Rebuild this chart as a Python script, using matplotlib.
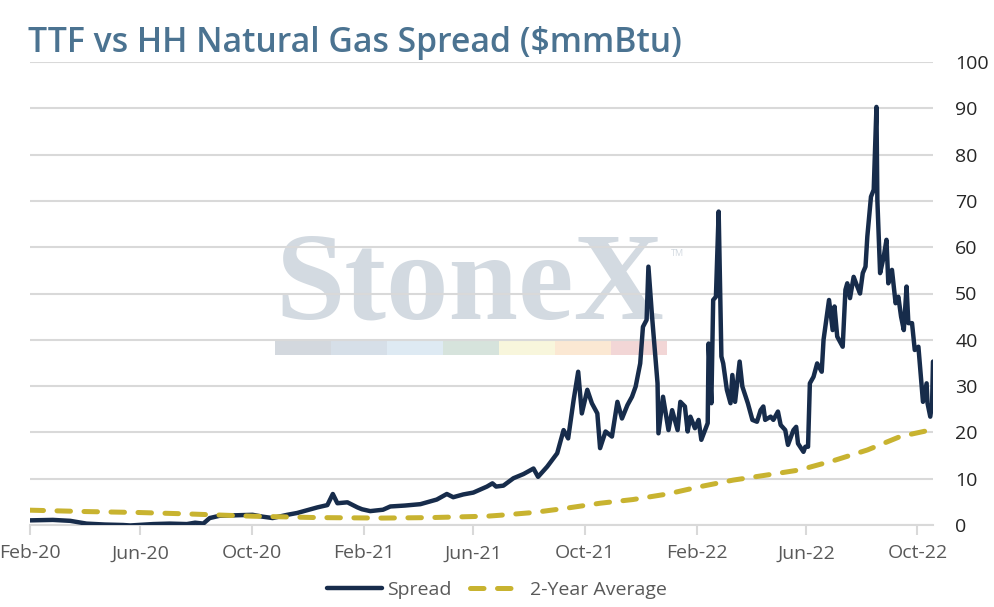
import pandas as pd
import numpy as np
import matplotlib
matplotlib.use('Agg')
import matplotlib.pyplot as plt
import matplotlib.dates as mdates
from matplotlib.patches import Rectangle

plt.rcParams['font.family'] = ['Open Sans', 'DejaVu Sans']

# spread values ($/mmBtu)
spread_dates = [
    '2020-02-01', '2020-02-26', '2020-03-16', '2020-04-03', '2020-04-23', '2020-05-13', '2020-05-21',
    '2020-06-15', '2020-07-03', '2020-07-22', '2020-07-31', '2020-08-09', '2020-08-16', '2020-08-27',
    '2020-09-13', '2020-10-02', '2020-10-13', '2020-10-24', '2020-11-09', '2020-11-20', '2020-12-01',
    '2020-12-12', '2020-12-23', '2020-12-29', '2021-01-03', '2021-01-14', '2021-01-25', '2021-01-30',
    '2021-02-08', '2021-02-22', '2021-03-02', '2021-03-18', '2021-04-04', '2021-04-22', '2021-05-03',
    '2021-05-10', '2021-05-21', '2021-06-01', '2021-06-16', '2021-06-22', '2021-06-26', '2021-07-04',
    '2021-07-15', '2021-07-26', '2021-08-06', '2021-08-11', '2021-08-21', '2021-09-01', '2021-09-08',
    '2021-09-13', '2021-09-19', '2021-09-24', '2021-09-28', '2021-10-04', '2021-10-09', '2021-10-15',
    '2021-10-18', '2021-10-24', '2021-10-31', '2021-11-06', '2021-11-11', '2021-11-17', '2021-11-22',
    '2021-11-26', '2021-12-01', '2021-12-04', '2021-12-08', '2021-12-10', '2021-12-14', '2021-12-20',
    '2021-12-21', '2021-12-26', '2022-01-01', '2022-01-05', '2022-01-11', '2022-01-14', '2022-01-19',
    '2022-01-22', '2022-01-25', '2022-01-30', '2022-02-03', '2022-02-06', '2022-02-13', '2022-02-14',
    '2022-02-17', '2022-02-19', '2022-02-22', '2022-02-25', '2022-02-28', '2022-03-02', '2022-03-06',
    '2022-03-10', '2022-03-12', '2022-03-15', '2022-03-20', '2022-03-23', '2022-03-29', '2022-04-03',
    '2022-04-08', '2022-04-12', '2022-04-15', '2022-04-17', '2022-04-23', '2022-04-26', '2022-05-01',
    '2022-05-04', '2022-05-09', '2022-05-12', '2022-05-18', '2022-05-21', '2022-05-23', '2022-05-29',
    '2022-05-31', '2022-06-03', '2022-06-05', '2022-06-09', '2022-06-13', '2022-06-18', '2022-06-20',
    '2022-06-26', '2022-06-30', '2022-07-02', '2022-07-05', '2022-07-11', '2022-07-14', '2022-07-16',
    '2022-07-19', '2022-07-23', '2022-07-27', '2022-07-30', '2022-08-02', '2022-08-05', '2022-08-07',
    '2022-08-11', '2022-08-14', '2022-08-17', '2022-08-18', '2022-08-21', '2022-08-25', '2022-08-28',
    '2022-08-30', '2022-09-03', '2022-09-07', '2022-09-10', '2022-09-13', '2022-09-16', '2022-09-19',
    '2022-09-21', '2022-09-25', '2022-09-28', '2022-10-02', '2022-10-05', '2022-10-07', '2022-10-11',
    '2022-10-12', '2022-10-15', '2022-10-17', '2022-10-18']
spread_vals = [
    1.0, 1.1, 0.9, 0.3, 0.1, 0.0, -0.1,
    0.2, 0.3, 0.2, 0.5, 0.3, 1.5, 2.0,
    2.1, 2.2, 1.8, 1.5, 2.2, 2.6, 3.2,
    3.8, 4.3, 6.7, 4.7, 4.9, 3.8, 3.4,
    3.0, 3.3, 4.0, 4.2, 4.5, 5.5, 6.7,
    6.0, 6.6, 7.0, 8.3, 9.0, 8.3, 8.5,
    10.1, 11.0, 12.2, 10.4, 12.6, 15.5, 20.5,
    18.7, 27.0, 33.1, 24.1, 29.2, 26.3, 24.1,
    16.6, 20.2, 19.1, 26.6, 23.0, 25.9, 27.7,
    29.9, 34.9, 42.8, 44.3, 55.8, 45.0, 30.6,
    19.8, 27.7, 20.5, 24.8, 20.5, 26.6, 25.6,
    20.2, 23.4, 20.9, 22.7, 18.4, 22.0, 39.2,
    26.3, 48.6, 49.3, 67.7, 36.4, 34.9, 29.2,
    26.3, 32.4, 26.6, 35.3, 29.9, 26.3, 22.7,
    22.3, 24.8, 25.6, 22.7, 23.4, 22.7, 24.5,
    21.6, 20.5, 17.3, 20.5, 21.2, 17.6, 15.8,
    16.9, 16.9, 30.6, 32.0, 34.9, 33.1, 40.0,
    48.6, 42.1, 47.2, 40.7, 38.5, 50.8, 52.2,
    49.0, 53.6, 51.5, 50.0, 54.4, 55.8, 62.3,
    70.9, 72.4, 90.3, 70.2, 54.4, 58.0, 61.6,
    52.2, 55.1, 47.9, 49.3, 45.0, 42.1, 51.5,
    43.6, 43.6, 37.8, 38.5, 31.3, 26.6, 30.6,
    26.3, 23.4, 26.3, 35.3]

# 2-year average
avg_dates = [
    '2020-02-01', '2020-04-03', '2020-05-30', '2020-07-22', '2020-10-02', '2020-12-12', '2021-02-22',
    '2021-04-15', '2021-06-16', '2021-06-30', '2021-08-06', '2021-09-10', '2021-10-18', '2021-11-23',
    '2021-12-31', '2022-02-05', '2022-03-13', '2022-04-19', '2022-05-25', '2022-07-01', '2022-08-07',
    '2022-09-12', '2022-10-17']
avg_vals = [
    3.2, 2.9, 2.7, 2.4, 1.9, 1.6, 1.5,
    1.6, 1.9, 2.1, 2.7, 3.6, 4.7, 5.5,
    6.7, 8.3, 9.7, 10.8, 11.9, 13.9, 16.2,
    19.1, 20.6]

tick_months = ['2020-02-01', '2020-06-01', '2020-10-01', '2021-02-01', '2021-06-01',
               '2021-10-01', '2022-02-01', '2022-06-01', '2022-10-01']

spread = pd.Series(spread_vals, index=pd.to_datetime(spread_dates))
avg2y = pd.Series(avg_vals, index=pd.to_datetime(avg_dates))

navy = '#172c4b'
gold = '#c8b330'
grid_c = '#d9d9d9'

fig = plt.figure(figsize=(9.94, 6.07), dpi=100)
ax = fig.add_axes([30 / 994, 1 - 525 / 607, (933 - 30) / 994, (525 - 62) / 607])

# watermark behind the grid
ax.text(275 / 994, 1 - 318 / 607, 'StoneX', transform=fig.transFigure, family='Liberation Serif',
        fontweight='bold', fontsize=90, color='#d3dae1', ha='left', va='baseline', zorder=0.3)
ax.text(671 / 994, 1 - 256 / 607, 'TM', transform=fig.transFigure, fontsize=6.5,
        color='#d2d9e0', ha='left', va='baseline', zorder=0.3)
bar_cols = ['#d3d8de', '#d6dfe8', '#deeaf3', '#d6e3dc', '#f8f6dc', '#fbe8d3', '#f2d6d6']
seg_w = (667 - 275) / 7
for i, c in enumerate(bar_cols):
    ax.add_patch(Rectangle(((275 + i * seg_w) / 994, 1 - 355 / 607), seg_w / 994, 14 / 607,
                           transform=fig.transFigure, facecolor=c, edgecolor='none', zorder=0.3))

ax.plot(spread.index, spread.values, color=navy, lw=3.2, solid_joinstyle='round',
        solid_capstyle='round', label='Spread', zorder=3)
ax.plot(avg2y.index, avg2y.values, color=gold, lw=3.6, dashes=(2.7, 2.7),
        dash_capstyle='round', label='2-Year Average', zorder=4)

ax.set_xlim(pd.Timestamp('2020-02-01'), pd.Timestamp('2022-10-18'))
ax.set_ylim(0, 100)
ax.set_yticks(np.arange(0, 101, 10))
ax.yaxis.tick_right()
ax.grid(axis='y', color=grid_c, lw=1.5)
ax.set_xticks(pd.to_datetime(tick_months))
ax.xaxis.set_major_formatter(mdates.DateFormatter('%b-%y'))

for s in ['top', 'left', 'right']:
    ax.spines[s].set_visible(False)
ax.spines['bottom'].set_color(grid_c)
ax.spines['bottom'].set_linewidth(1.5)
ax.tick_params(axis='x', colors=grid_c, length=7, width=1.5, labelcolor='#595959',
               labelsize=14, pad=7)
ax.tick_params(axis='y', length=0, labelcolor='#262626', labelsize=14, pad=16)
ax.patch.set_alpha(0)

fig.text(28 / 994, 1 - 52 / 607, 'TTF vs HH Natural Gas Spread ($mmBtu)', fontsize=24.3,
         fontweight='semibold', color='#4b7391', ha='left', va='baseline')

fig.legend(loc='center', bbox_to_anchor=(0.5, 1 - 590 / 607), ncol=2, frameon=False,
           fontsize=14, handlelength=2.8, handletextpad=0.3, columnspacing=0.9,
           labelcolor='#595959')

fig.savefig('out.png', dpi=100)
